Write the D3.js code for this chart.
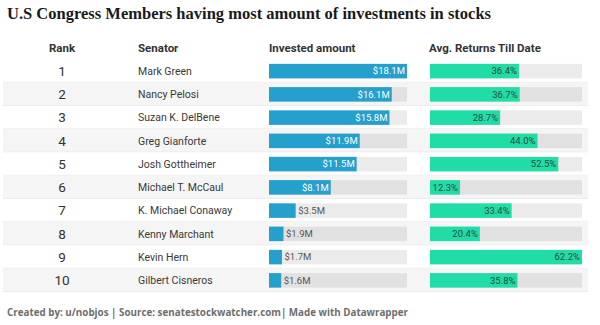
<!DOCTYPE html>
<html>
<head>
<meta charset="utf-8">
<script src="https://cdn.jsdelivr.net/npm/d3@7"></script>
<style>
  html, body { margin: 0; padding: 0; background: #fff; }
  svg { display: block; }
</style>
</head>
<body>
<svg id="chart" width="600" height="325"></svg>
<script>
const ranks = [1, 2, 3, 4, 5, 6, 7, 8, 9, 10];
const senators = ["Mark Green", "Nancy Pelosi", "Suzan K. DelBene", "Greg Gianforte", "Josh Gottheimer",
  "Michael T. McCaul", "K. Michael Conaway", "Kenny Marchant", "Kevin Hern", "Gilbert Cisneros"];
const invested = [18.1, 16.1, 15.8, 11.9, 11.5, 8.1, 3.5, 1.9, 1.7, 1.6];
const returnsPct = [36.4, 36.7, 28.7, 44.0, 52.5, 12.3, 33.4, 20.4, 62.2, 35.8];
const headers = ["Rank", "Senator", "Invested amount", "Avg. Returns Till Date"];
const titleText = "U.S Congress Members having most amount of investments in stocks";
const footerText = "Created by: u/nobjos | Source: senatestockwatcher.com| Made with Datawrapper";

const svg = d3.select("#chart");

// Title
svg.append("text")
  .attr("x", 7).attr("y", 19)
  .attr("font-family", "'Liberation Serif', 'DejaVu Serif', serif")
  .attr("font-weight", "bold")
  .attr("font-size", 17.5)
  .attr("fill", "#1a1a1a")
  .attr("textLength", 484)
  .attr("lengthAdjust", "spacingAndGlyphs")
  .text(titleText);

// Row band scale
const y = d3.scaleBand().domain(ranks).range([59.5, 292]).paddingInner(0).paddingOuter(0);

const xInv = d3.scaleLinear().domain([0, d3.max(invested)]).range([269, 407]);
const xRet = d3.scaleLinear().domain([0, d3.max(returnsPct)]).range([430, 582]);

const rows = svg.append("g").selectAll("g.row")
  .data(ranks.map((r, i) => ({ rank: r, name: senators[i], inv: invested[i], ret: returnsPct[i], i })))
  .join("g").attr("class", "row");

rows.append("rect")
  .attr("x", 3).attr("width", 585)
  .attr("y", d => y(d.rank)).attr("height", y.bandwidth())
  .attr("fill", d => d.i % 2 === 1 ? "#f5f5f5" : "#ffffff");

rows.append("line")
  .attr("x1", 3).attr("x2", 588)
  .attr("y1", d => y(d.rank) + y.bandwidth() - 0.5)
  .attr("y2", d => y(d.rank) + y.bandwidth() - 0.5)
  .attr("stroke", "#ececec").attr("stroke-width", 1);

const cy = d => y(d.rank) + y.bandwidth() / 2;
const barH = 14.5;

rows.append("text")
  .attr("x", 62).attr("y", d => cy(d) + 4.8)
  .attr("text-anchor", "middle")
  .attr("font-family", "Roboto, sans-serif")
  .attr("font-size", 13.5)
  .attr("fill", "#333")
  .text(d => d.rank);

rows.append("text")
  .attr("x", 138).attr("y", d => cy(d) + 3.7)
  .attr("font-family", "Roboto, sans-serif")
  .attr("font-size", 10.5)
  .attr("fill", "#3a3a3a")
  .text(d => d.name);

// Invested tracks & bars
rows.append("rect")
  .attr("x", xInv(0)).attr("width", xInv.range()[1] - xInv(0))
  .attr("y", d => cy(d) - barH / 2).attr("height", barH)
  .attr("fill", "#000").attr("fill-opacity", 0.08);

rows.append("rect")
  .attr("x", xInv(0)).attr("width", d => xInv(d.inv) - xInv(0))
  .attr("y", d => cy(d) - barH / 2).attr("height", barH)
  .attr("fill", "#25a0cd");

rows.append("text")
  .attr("font-family", "Roboto, sans-serif")
  .attr("font-size", 9.5)
  .attr("y", d => cy(d) + 3.3)
  .text(d => "$" + d.inv.toFixed(1) + "M")
  .each(function (d) {
    const t = d3.select(this);
    const w = this.getComputedTextLength();
    const bw = xInv(d.inv) - xInv(0);
    if (bw > w + 6) {
      t.attr("x", xInv(d.inv) - 2).attr("text-anchor", "end").attr("fill", "#ffffff");
    } else {
      t.attr("x", xInv(d.inv) + 2.5).attr("text-anchor", "start").attr("fill", "#555");
    }
  });

// Returns tracks & bars
rows.append("rect")
  .attr("x", xRet(0)).attr("width", xRet.range()[1] - xRet(0))
  .attr("y", d => cy(d) - barH / 2).attr("height", barH)
  .attr("fill", "#000").attr("fill-opacity", 0.08);

rows.append("rect")
  .attr("x", xRet(0)).attr("width", d => xRet(d.ret) - xRet(0))
  .attr("y", d => cy(d) - barH / 2).attr("height", barH)
  .attr("fill", "#20dca6");

rows.append("text")
  .attr("font-family", "Roboto, sans-serif")
  .attr("font-size", 9.5)
  .attr("y", d => cy(d) + 3.3)
  .attr("x", d => xRet(d.ret) - 2)
  .attr("text-anchor", "end")
  .attr("fill", "#2b4a40")
  .text(d => d.ret.toFixed(1) + "%");

// Headers
const headerX = [62, 138, 269, 429];
const headerAnchor = ["middle", "start", "start", "start"];
svg.append("g").selectAll("text")
  .data(headers)
  .join("text")
  .attr("x", (d, i) => headerX[i])
  .attr("y", 51.5)
  .attr("text-anchor", (d, i) => headerAnchor[i])
  .attr("font-family", "Roboto, sans-serif")
  .attr("font-weight", "bold")
  .attr("font-size", 11.5)
  .attr("fill", "#333")
  .text(d => d);

// Footer
svg.append("text")
  .attr("x", 7).attr("y", 315.5)
  .attr("font-family", "'Open Sans', sans-serif")
  .attr("font-weight", "bold")
  .attr("font-size", 10.2)
  .attr("fill", "#6e6e6e")
  .attr("textLength", 401)
  .attr("lengthAdjust", "spacingAndGlyphs")
  .text(footerText);
</script>
</body>
</html>
